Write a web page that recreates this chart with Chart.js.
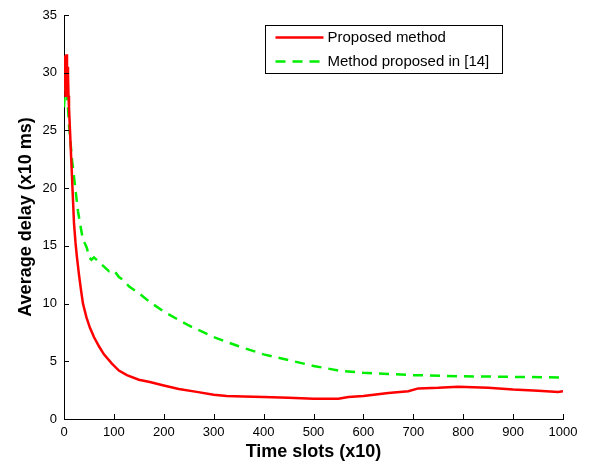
<!DOCTYPE html>
<html lang="en">
<head>
<meta charset="UTF-8">
<title>Average delay</title>
<script src="https://cdn.jsdelivr.net/npm/chart.js"></script>
<style>
  html, body { margin: 0; padding: 0; background: #fff; }
  #wrap { width: 602px; height: 465px; }
</style>
</head>
<body>
<div id="wrap"><canvas id="delayChart" width="602" height="465"></canvas></div>
<script>
// Proposed method (red)
const redX = [0, 1, 2, 3, 4, 5, 6, 7, 8, 9, 10, 12, 14, 16, 18, 20, 23, 26, 30, 34, 38, 45, 52, 60, 70, 80, 96, 110, 126, 150, 172, 200, 230, 266, 300, 326, 360, 400, 450, 500, 550, 570, 600, 650, 690, 710, 750, 790, 850, 900, 950, 990, 1000];
const redY = [29, 30.5, 31.5, 28, 30, 31.6, 29, 30.5, 29.8, 28, 27, 25, 23, 21, 19, 17, 15.3, 14, 12.5, 11.2, 10, 8.8, 7.9, 7.1, 6.3, 5.6, 4.8, 4.2, 3.8, 3.4, 3.2, 2.9, 2.6, 2.35, 2.1, 2.0, 1.95, 1.9, 1.85, 1.75, 1.75, 1.9, 2.0, 2.25, 2.4, 2.65, 2.7, 2.8, 2.7, 2.55, 2.45, 2.35, 2.4];

// Method proposed in [14] (green, dashed)
const greenX = [0, 2, 4, 6, 8, 10, 13, 16, 20, 24, 28, 32, 38, 42, 46, 50, 55, 60, 70, 80, 90, 100, 110, 120, 130, 150, 170, 200, 250, 300, 350, 400, 450, 500, 550, 600, 650, 700, 800, 900, 1000];
const greenY = [27, 28.5, 29.2, 28, 27, 25.5, 24, 22.5, 21, 19.5, 18, 17, 15.5, 15.2, 14.8, 14, 13.8, 14, 13.6, 13.2, 12.8, 12.9, 12.3, 12, 11.5, 10.9, 10.2, 9.3, 8.1, 7.1, 6.3, 5.6, 5.1, 4.6, 4.2, 4.0, 3.9, 3.8, 3.7, 3.65, 3.6];

const xTicks = [0, 100, 200, 300, 400, 500, 600, 700, 800, 900, 1000];
const yTicks = [0, 5, 10, 15, 20, 25, 30, 35];

const toPoints = (xs, ys) => xs.map((x, i) => ({ x: x, y: ys[i] }));

const tickFont = { family: 'Liberation Sans', size: 13 };
const titleFont = { family: 'Liberation Sans', size: 18, weight: 'bold' };

// inward ticks like matlab + legend box inside the plot
const matlabAxes = {
  id: 'matlabAxes',
  afterDraw(chart) {
    const c = chart.ctx;
    const a = chart.chartArea;
    const xs = chart.scales.x, ys = chart.scales.y;
    c.save();
    c.strokeStyle = '#000';
    c.lineWidth = 1;
    c.beginPath();
    xTicks.forEach(v => {
      const px = Math.round(xs.getPixelForValue(v)) + 0.5;
      c.moveTo(px, a.bottom);
      c.lineTo(px, a.bottom - 5);
    });
    yTicks.forEach(v => {
      const py = Math.round(ys.getPixelForValue(v)) + 0.5;
      c.moveTo(a.left, py);
      c.lineTo(a.left + 5, py);
    });
    c.stroke();

    // legend
    const bx = 265.5, by = 25.5, bw = 237, bh = 48;
    c.fillStyle = '#fff';
    c.fillRect(bx, by, bw, bh);
    c.strokeRect(bx, by, bw, bh);
    c.font = '15px "Liberation Sans"';
    c.textBaseline = 'middle';
    chart.data.datasets.forEach((ds, i) => {
      const ly = by + 12 + i * 24;
      c.strokeStyle = ds.borderColor;
      c.lineWidth = 2.5;
      c.setLineDash(ds.borderDash || []);
      c.beginPath();
      c.moveTo(bx + 10, ly);
      c.lineTo(bx + 58, ly);
      c.stroke();
      c.setLineDash([]);
      c.fillStyle = '#000';
      c.fillText(ds.label, bx + 62, ly);
    });
    c.restore();
  }
};

new Chart(document.getElementById('delayChart'), {
  type: 'line',
  data: {
    datasets: [
      {
        label: 'Proposed method',
        data: toPoints(redX, redY),
        borderColor: '#ff0000',
        borderWidth: 2.5,
        pointRadius: 0,
        tension: 0
      },
      {
        label: 'Method proposed in [14]',
        data: toPoints(greenX, greenY),
        borderColor: '#00ee00',
        borderWidth: 2.5,
        borderDash: [10, 7],
        pointRadius: 0,
        tension: 0
      }
    ]
  },
  options: {
    responsive: false,
    animation: false,
    layout: { padding: { top: 15, right: 39, bottom: 2, left: 15 } },
    plugins: { legend: { display: false }, tooltip: { enabled: false } },
    scales: {
      x: {
        type: 'linear',
        min: 0, max: 1000,
        afterBuildTicks: s => { s.ticks = xTicks.map(v => ({ value: v })); },
        afterFit: s => { s.height = 44; },
        grid: { display: false, drawTicks: false },
        border: { color: '#000', width: 1 },
        ticks: { color: '#000', font: tickFont, padding: 6, maxRotation: 0, callback: v => String(v) },
        title: { display: true, text: 'Time slots (x10)', color: '#000', font: titleFont, padding: { top: 1, bottom: 0 } }
      },
      y: {
        min: 0, max: 35,
        afterBuildTicks: s => { s.ticks = yTicks.map(v => ({ value: v })); },
        afterFit: s => { s.width = 49; },
        grid: { display: false, drawTicks: false },
        border: { color: '#000', width: 1 },
        ticks: { color: '#000', font: tickFont, padding: 7, callback: v => String(v) },
        title: { display: true, text: 'Average delay (x10 ms)', color: '#000', font: titleFont, padding: { top: 0, bottom: 4 } }
      }
    }
  },
  plugins: [matlabAxes]
});
</script>
</body>
</html>
